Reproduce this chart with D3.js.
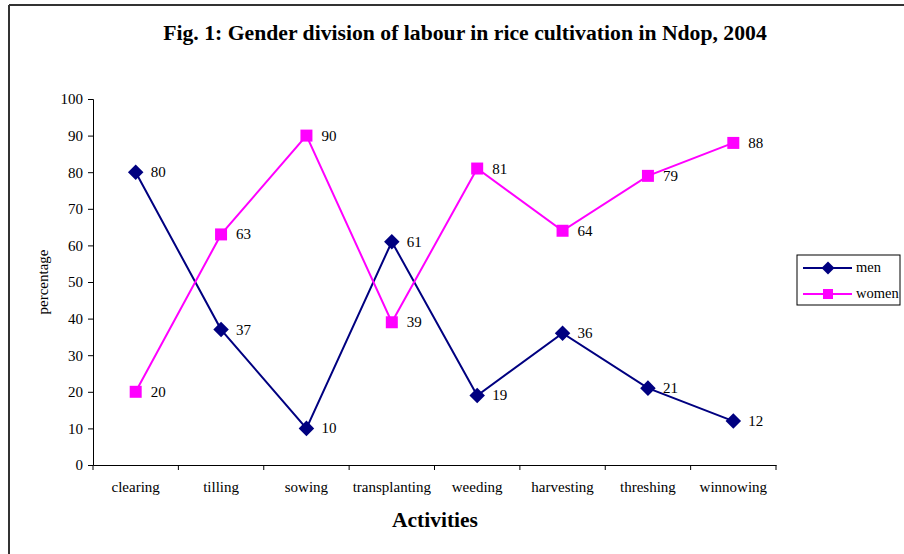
<!DOCTYPE html>
<html><head><meta charset="utf-8">
<script src="https://cdn.jsdelivr.net/npm/d3@7"></script>
<style>body{margin:0;background:#fff}svg{display:block}text{font-family:"Liberation Serif","Times New Roman",serif;fill:#000}</style>
</head><body>
<svg id="c" width="904" height="554"></svg>
<script>
const categories = ["clearing","tilling","sowing","transplanting","weeding","harvesting","threshing","winnowing"];
const men = [80,37,10,61,19,36,21,12];
const women = [20,63,90,39,81,64,79,88];
const yTicks = [0,10,20,30,40,50,60,70,80,90,100];

const svg = d3.select("#c");
svg.append("line").attr("x1",9).attr("y1",5).attr("x2",904).attr("y2",5).attr("stroke","#333").attr("stroke-width",2);
svg.append("line").attr("x1",9).attr("y1",5).attr("x2",9).attr("y2",554).attr("stroke","#333").attr("stroke-width",2);

const L=93, R=776, T=99, B=465;
const x = d3.scaleBand().domain(categories).range([L,R]);
const y = d3.scaleLinear().domain([0,100]).range([B,T]);

svg.append("text").attr("x",465).attr("y",40).attr("text-anchor","middle")
  .style("font-size","21.7px").style("font-weight","bold")
  .text("Fig. 1: Gender division of labour in rice cultivation in Ndop, 2004");

const ya = svg.append("g").attr("transform",`translate(${L},0)`)
  .call(d3.axisLeft(y).tickValues(yTicks).tickSize(5).tickPadding(5));
const xa = svg.append("g").attr("transform",`translate(0,${B})`)
  .call(d3.axisBottom(x).tickSize(0).tickPadding(16));
[ya,xa].forEach(g=>{g.selectAll("path,line").attr("stroke","#000");g.selectAll("text").style("font-size","15px").style("font-family",'"Liberation Serif",serif');});
const bounds = categories.map(c=>x(c)).concat([R]);
svg.append("g").selectAll("line").data(bounds).join("line")
  .attr("x1",d=>d).attr("x2",d=>d).attr("y1",B).attr("y2",B+5).attr("stroke","#000");

svg.append("text").attr("transform",`translate(48,${(T+B)/2}) rotate(-90)`).attr("text-anchor","middle")
  .style("font-size","15px").text("percentage");
svg.append("text").attr("x",435).attr("y",527).attr("text-anchor","middle")
  .style("font-size","21.5px").style("font-weight","bold").text("Activities");

const cx = c => x(c)+x.bandwidth()/2;
const series = [
  {name:"men", vals:men, color:"#000080", shape:d3.symbolSquare, size:121, rot:45},
  {name:"women", vals:women, color:"#FF00FF", shape:d3.symbolSquare, size:144, rot:0}
];
series.forEach(s=>{
  const pts = categories.map((c,i)=>[cx(c), y(s.vals[i]), s.vals[i]]);
  svg.append("path").attr("d",d3.line()(pts.map(p=>[p[0],p[1]]))).attr("fill","none").attr("stroke",s.color).attr("stroke-width",2);
  svg.append("g").selectAll("path").data(pts).join("path")
    .attr("transform",p=>`translate(${p[0]},${p[1]}) rotate(${s.rot})`)
    .attr("d",d3.symbol().type(s.shape).size(s.size)).attr("fill",s.color);
  svg.append("g").selectAll("text").data(pts).join("text")
    .attr("x",p=>p[0]+15).attr("y",p=>p[1]+5).style("font-size","15px").text(p=>p[2]);
});

const lg = svg.append("g");
lg.append("rect").attr("x",797).attr("y",255).attr("width",103).attr("height",50).attr("fill","#fff").attr("stroke","#000");
series.forEach((s,i)=>{
  const yy = 268 + i*26;
  lg.append("line").attr("x1",803).attr("x2",852).attr("y1",yy).attr("y2",yy).attr("stroke",s.color).attr("stroke-width",2);
  lg.append("path").attr("transform",`translate(828,${yy}) rotate(${s.rot})`).attr("d",d3.symbol().type(s.shape).size(s.size*0.7)).attr("fill",s.color);
  lg.append("text").attr("x",856).attr("y",yy+4).style("font-size","14.5px").text(s.name);
});
</script>
</body></html>
